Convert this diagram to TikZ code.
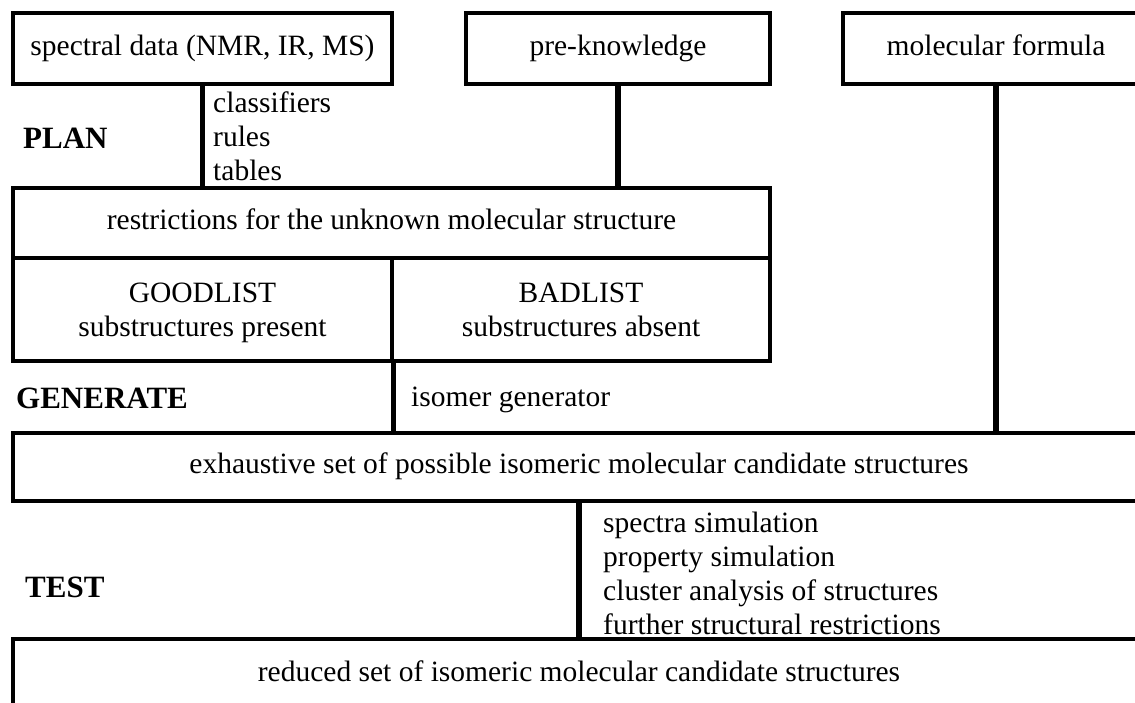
\documentclass[tikz,border=0pt]{standalone}
\usepackage{fontspec}
\setmainfont{Liberation Serif}
\usetikzlibrary{positioning}

\begin{document}
\begin{tikzpicture}[
  x=1pt, y=-1pt,
  every node/.style={font=\fontsize{29.5}{34}\selectfont},
  box/.style={draw, rectangle, line width=3.3pt, inner sep=0pt, minimum height=71pt, align=center},
  oneline/.style={text height=20pt, text depth=6.5pt},
  link/.style={line width=5.5pt},
  txt/.style={inner sep=0pt, anchor=west, align=left},
  phase/.style={inner sep=0pt, anchor=base west, font=\bfseries\fontsize{31}{34}\selectfont}
]
  \useasboundingbox (0,0) rectangle (1135,702);
  \clip (0,0) rectangle (1135,702);

  \node[box, oneline, minimum width=379pt] (spec) at (202.5,48.5) {spectral data (NMR, IR, MS)};
  \node[box, oneline, minimum width=304pt] (know) at (618,48.5)   {pre-knowledge};
  \node[box, oneline, minimum width=306pt] (form) at (996,48.5)   {molecular formula};
  \node[box, oneline, minimum width=757pt, minimum height=70pt] (restr) at (391.5,223) {restrictions for the unknown molecular structure};
  \node[box, minimum width=379pt, minimum height=103pt, text depth=0pt] (good) at (202.5,309.5) {GOODLIST\\substructures present};
  \node[box, minimum width=378pt, minimum height=103pt, text depth=0pt] (bad) at (581,309.5) {BADLIST\\substructures absent};
  \node[box, oneline, minimum width=1132pt, minimum height=68pt] (exh) at (579,467) {exhaustive set of possible isomeric molecular candidate structures};
  \node[box, oneline, minimum width=1132pt, minimum height=72pt] (red) at (579,675) {reduced set of isomeric molecular candidate structures};

  \node[phase] (plan) at (23,148.5) {PLAN};
  \node[txt] (tools) at (213,136)   {classifiers\\rules\\tables};
  \node[phase] (gen) at (16,408)    {GENERATE};
  \node[txt, anchor=base west] (isogen) at (411,406) {isomer generator};
  \node[phase] (test) at (25,597)   {TEST};
  \node[txt] (checks) at (603,573)  {spectra simulation\\property simulation\\cluster analysis of structures\\further structural restrictions};

  \draw[link] (spec.south) -- (spec.south |- restr.north);
  \draw[link] (know.south) -- (know.south |- restr.north);
  \draw[link] (form.south) -- (form.south |- exh.north);
  \draw[link] (good.south east) -- (good.south east |- exh.north);
  \draw[link] (exh.south) -- (exh.south |- red.north);
\end{tikzpicture}
\end{document}
